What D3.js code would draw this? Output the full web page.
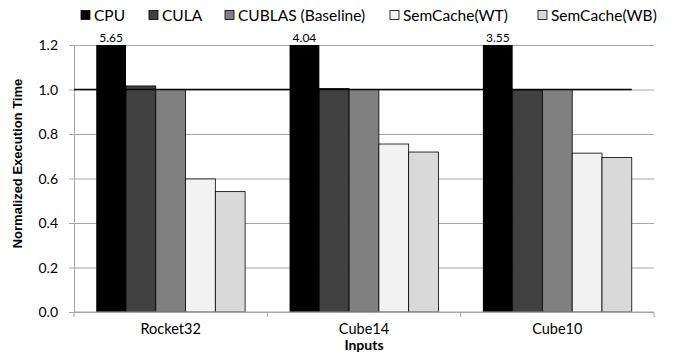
<!DOCTYPE html>
<html>
<head>
<meta charset="utf-8">
<script src="https://cdn.jsdelivr.net/npm/d3@7"></script>
<style>
  body { margin: 0; background: #fff; }
  text { font-family: Lato, "Open Sans", sans-serif; fill: #000; }
  .grid line { stroke: #a6a6a6; }
</style>
</head>
<body>
<svg id="chart" width="675" height="357"></svg>
<script>
const categories = ['Rocket32', 'Cube14', 'Cube10'];
const seriesNames = ['CPU', 'CULA', 'CUBLAS (Baseline)', 'SemCache(WT)', 'SemCache(WB)'];
const seriesColors = ['#000000', '#404040', '#808080', '#f2f2f2', '#d9d9d9'];
const cpu = [5.65, 4.04, 3.55];
const cula = [1.016, 1.004, 0.998];
const cublas = [1.0, 1.0, 1.0];
const semWT = [0.598, 0.755, 0.714];
const semWB = [0.541, 0.719, 0.694];
const yTicks = [0, 0.2, 0.4, 0.6, 0.8, 1.0, 1.2];

const svg = d3.select('#chart');
const margin = { top: 45, right: 21, bottom: 45, left: 74 };
const width = 675, height = 357;
const innerWidth = width - margin.left - margin.right;
const innerHeight = height - margin.top - margin.bottom;

const allSeries = [cpu, cula, cublas, semWT, semWB];

const xScale = d3.scaleBand()
  .domain(categories)
  .range([0, innerWidth])
  .paddingInner(0.23)
  .paddingOuter(0.115);

const xSub = d3.scaleBand()
  .domain(d3.range(seriesNames.length))
  .range([0, xScale.bandwidth()]);

const yScale = d3.scaleLinear()
  .domain([0, 1.2])
  .range([innerHeight, 0]);

const g = svg.append('g')
  .attr('transform', `translate(${margin.left},${margin.top})`);

// gridlines + y axis ticks
const gridG = g.append('g').attr('class', 'grid')
  .call(d3.axisLeft(yScale).tickValues(yTicks).tickSize(-innerWidth));
gridG.selectAll('.domain').remove();
gridG.selectAll('text').remove();

const yAxisG = g.append('g')
  .call(d3.axisLeft(yScale).tickValues(yTicks).tickSize(5));
yAxisG.select('.domain').attr('stroke', '#a6a6a6');
yAxisG.selectAll('.tick line').attr('stroke', '#a6a6a6');
yAxisG.selectAll('text').remove();

// y tick labels
g.selectAll('.ylabel')
  .data(yTicks)
  .enter().append('text')
  .attr('class', 'ylabel')
  .attr('x', -16)
  .attr('y', d => yScale(d) + 5)
  .attr('text-anchor', 'end')
  .attr('font-size', 14)
  .text(d3.format('.1f'));

// bars
svg.append('defs').append('clipPath').attr('id', 'plotclip')
  .append('rect').attr('x', 0).attr('y', 0).attr('width', innerWidth).attr('height', innerHeight);

const barsG = g.append('g').attr('clip-path', 'url(#plotclip)');
allSeries.forEach((vals, s) => {
  barsG.selectAll(null)
    .data(vals)
    .enter().append('rect')
    .attr('x', (d, i) => xScale(categories[i]) + xSub(s))
    .attr('y', d => yScale(Math.min(d, 1.3)))
    .attr('width', xSub.bandwidth())
    .attr('height', d => innerHeight - yScale(Math.min(d, 1.3)))
    .attr('fill', seriesColors[s])
    .attr('stroke', s === 0 ? 'none' : '#000')
    .attr('stroke-width', 0.8);
});

// reference line at 1.0
const lastCat = categories[categories.length - 1];
g.append('line')
  .attr('x1', 0)
  .attr('x2', xScale(lastCat) + xScale.bandwidth())
  .attr('y1', yScale(1.0))
  .attr('y2', yScale(1.0))
  .attr('stroke', '#000')
  .attr('stroke-width', 1.6);

// CPU value labels
g.selectAll('.cpu-label')
  .data(cpu)
  .enter().append('text')
  .attr('class', 'cpu-label')
  .attr('x', (d, i) => xScale(categories[i]) + xSub(0) + xSub.bandwidth() / 2)
  .attr('y', -3)
  .attr('text-anchor', 'middle')
  .attr('font-size', 12)
  .text(d => d.toFixed(2));

// x axis
const xAxisG = g.append('g')
  .attr('transform', `translate(0,${innerHeight})`);
xAxisG.append('line')
  .attr('x1', 0).attr('x2', innerWidth)
  .attr('stroke', '#a6a6a6');
const bounds = d3.range(categories.length + 1).map(i => i * innerWidth / categories.length);
xAxisG.selectAll('.xtick')
  .data(bounds)
  .enter().append('line')
  .attr('x1', d => d).attr('x2', d => d)
  .attr('y1', 0).attr('y2', 5)
  .attr('stroke', '#a6a6a6');
xAxisG.selectAll('.xlabel')
  .data(categories)
  .enter().append('text')
  .attr('x', d => xScale(d) + xScale.bandwidth() / 2)
  .attr('y', 22)
  .attr('text-anchor', 'middle')
  .attr('font-size', 14.5)
  .text(d => d);

xAxisG.append('text')
  .attr('x', innerWidth / 2)
  .attr('y', 38)
  .attr('text-anchor', 'middle')
  .attr('font-size', 14)
  .attr('font-weight', 'bold')
  .text('Inputs');

// y axis title
g.append('text')
  .attr('transform', 'rotate(-90)')
  .attr('x', -innerHeight / 2 + 15)
  .attr('y', -52)
  .attr('text-anchor', 'middle')
  .attr('font-size', 13)
  .attr('font-weight', 'bold')
  .style('font-family', '"Liberation Sans", Arial, sans-serif')
  .text('Normalized Execution Time');

// legend
const legendX = [81, 149, 225, 390, 538];
const legend = svg.append('g');
seriesNames.forEach((name, s) => {
  legend.append('rect')
    .attr('x', legendX[s]).attr('y', 10.5)
    .attr('width', 9).attr('height', 9)
    .attr('fill', seriesColors[s])
    .attr('stroke', '#000').attr('stroke-width', 0.8);
  legend.append('text')
    .attr('x', legendX[s] + 13).attr('y', 20.5)
    .attr('font-size', 15.5)
    .text(name);
});
</script>
</body>
</html>
